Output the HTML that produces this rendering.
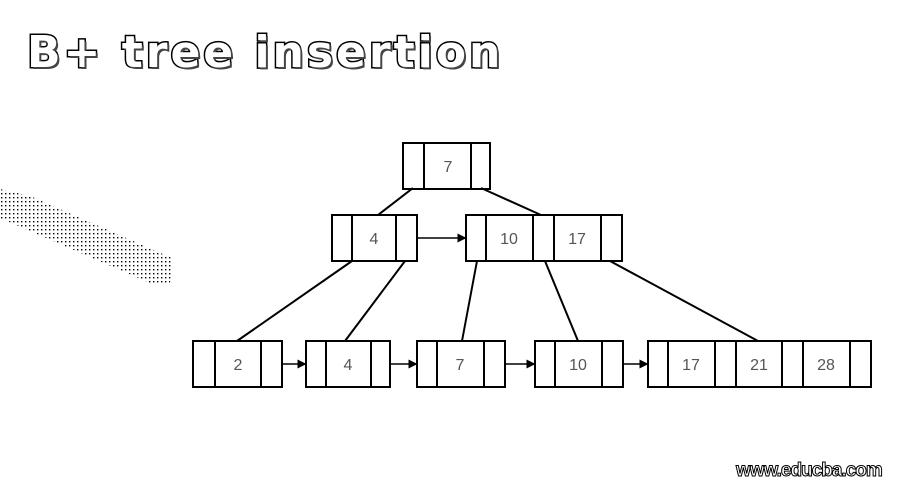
<!DOCTYPE html>
<html><head><meta charset="utf-8"><style>
html,body{margin:0;padding:0;background:#fff;}
#c{position:relative;width:900px;height:500px;overflow:hidden;background:#fff;}
.title{position:absolute;left:27px;top:27px;font:bold 44px "DejaVu Sans",sans-serif;color:#fff;-webkit-text-stroke:3px #000;paint-order:stroke fill;text-shadow:2px 2px 0 #444;letter-spacing:3px;white-space:nowrap;}
.wm{position:absolute;left:736px;top:460px;font:bold 19px "Liberation Sans",sans-serif;color:#fff;-webkit-text-stroke:1px #000;letter-spacing:-1px;}
</style></head><body>
<div id="c">
<div class="title">B+ tree insertion</div>
<svg width="900" height="500" style="position:absolute;left:0;top:0">
<defs>
<pattern id="dots" width="4" height="4" patternUnits="userSpaceOnUse"><rect x="1" y="1" width="1.4" height="1.4" fill="#000"/></pattern>
<marker id="ah" markerWidth="6" markerHeight="6" refX="5" refY="3" orient="auto"><path d="M0,0 L6,3 L0,6 z" fill="#000"/></marker>
</defs>
<polygon points="0,189 30,196 172,258 170,284 150,283 0,218" fill="url(#dots)"/>
<g id="g" stroke="#000" stroke-width="2" fill="none"></g>
<g id="t" font-family="Liberation Sans, sans-serif" font-size="16" fill="#555" text-anchor="middle"></g>
</svg>
<div class="wm">www.educba.com</div>
</div>
<script>
const nodes=[
 {n:'root-node',x:403,y:143,w:87,d:[424,471],keys:[['7',448]]},
 {n:'internal-node-4',x:332,y:215,w:85,d:[352,396],keys:[['4',374]]},
 {n:'internal-node-10-17',x:466,y:215,w:156,d:[486,533,554,601],keys:[['10',509],['17',577]]},
 {n:'leaf-2',x:193,y:341,w:89,d:[215,261],keys:[['2',238]]},
 {n:'leaf-4',x:306,y:341,w:84,d:[326,371],keys:[['4',348]]},
 {n:'leaf-7',x:417,y:341,w:88,d:[437,484],keys:[['7',460]]},
 {n:'leaf-10',x:535,y:341,w:88,d:[555,602],keys:[['10',578]]},
 {n:'leaf-17-21-28',x:648,y:341,w:223,d:[668,715,736,782,803,850],keys:[['17',691],['21',759],['28',826]]}
];
const edges=[[413,188,378,215],[481,188,541,215],[352,261,237,341],[405,261,345,341],[477,261,462,341],[545,261,578,341],[610,261,758,341]];
const arrows=[[417,238,465,238],[282,364,305,364],[390,364,416,364],[505,364,534,364],[623,364,647,364]];
const NS='http://www.w3.org/2000/svg',g=document.getElementById('g'),t=document.getElementById('t');
function mk(tag,a,p){const e=document.createElementNS(NS,tag);for(const k in a)e.setAttribute(k,a[k]);p.appendChild(e);return e;}
nodes.forEach(nd=>{
 const r=mk('rect',{x:nd.x,y:nd.y,width:nd.w,height:46},g);
 
 
 nd.d.forEach(dx=>{const l=mk('line',{x1:dx,y1:nd.y,x2:dx,y2:nd.y+46},g);
  
  });
 nd.keys.forEach(k=>{const tx=mk('text',{x:k[1],y:nd.y+29},t);tx.textContent=k[0];
  
  });
});
edges.forEach(e=>{const l=mk('line',{x1:e[0],y1:e[1],x2:e[2],y2:e[3]},g);
 
 });
arrows.forEach(e=>{const l=mk('line',{x1:e[0],y1:e[1],x2:e[2],y2:e[3],'marker-end':'url(#ah)','stroke-width':1.5},g);
 
 });
</script>
</body></html>
